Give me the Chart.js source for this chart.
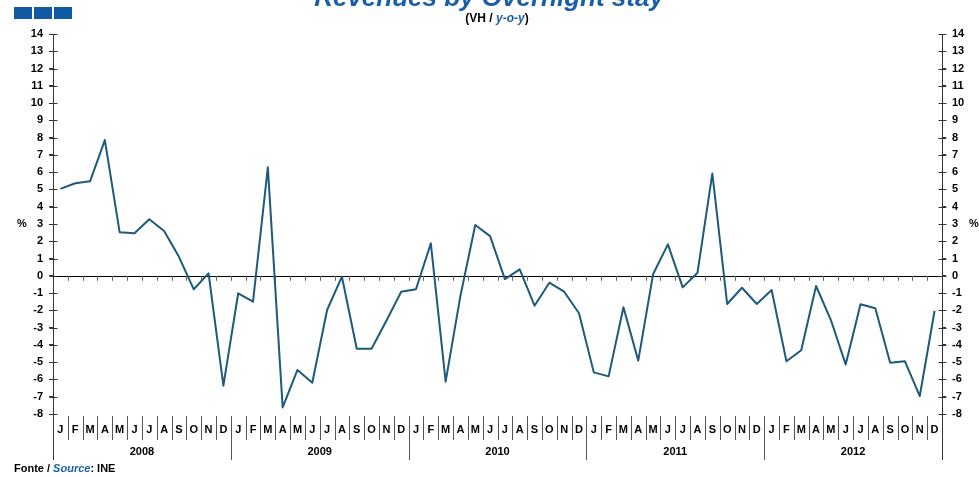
<!DOCTYPE html>
<html>
<head>
<meta charset="utf-8">
<script src="https://cdn.jsdelivr.net/npm/chart.js@4.4.1/dist/chart.umd.min.js"></script>
<style>
  body { margin: 0; background: #fff; }
  #wrap { width: 979px; height: 477px; position: relative; }
</style>
</head>
<body>
<div id="wrap"><canvas id="chart" width="979" height="477"></canvas></div>
<script>
const years = ["2008", "2009", "2010", "2011", "2012"];
const monthLetters = ["J", "F", "M", "A", "M", "J", "J", "A", "S", "O", "N", "D"];
const yTicks = { min: -8, max: 14, step: 1 };

// y-o-y change (%), one row per year
const revenues = [
  5.03, 5.36, 5.47, 7.86, 2.52, 2.46, 3.27, 2.59, 1.1, -0.78, 0.14, -6.36,
  -1.01, -1.5, 6.28, -7.62, -5.45, -6.19, -1.98, -0.05, -4.22, -4.22, -2.6, -0.92,
  -0.78, 1.88, -6.13, -1.15, 2.94, 2.3, -0.19, 0.37, -1.73, -0.4, -0.92, -2.17,
  -5.59, -5.82, -1.82, -4.91, 0.09, 1.82, -0.67, 0.18, 5.93, -1.63, -0.69, -1.63,
  -0.82, -4.95, -4.31, -0.59, -2.56, -5.13, -1.65, -1.88, -5.03, -4.95, -6.96, -2.02
];

const labels = [];
years.forEach(y => monthLetters.forEach(m => labels.push(m + " " + y)));

const FONT = "'Liberation Sans', Arial, sans-serif";
const BLUE = "#1a5ea8";

const decor = {
  id: "decor",
  beforeDatasetsDraw(chart) {
    const { ctx, chartArea: a, scales } = chart;
    const x = scales.x, y = scales.y;
    const half = (x.getPixelForValue(1) - x.getPixelForValue(0)) / 2;
    const y0 = y.getPixelForValue(0);
    ctx.save();
    // zero line + little ticks
    ctx.strokeStyle = "#000";
    ctx.lineWidth = 1;
    ctx.beginPath();
    ctx.moveTo(a.left, Math.round(y0) + 0.5);
    ctx.lineTo(a.right, Math.round(y0) + 0.5);
    ctx.stroke();
    ctx.strokeStyle = "#666";
    ctx.beginPath();
    for (let i = 1; i < labels.length; i++) {
      const bx = Math.round(x.getPixelForValue(i) - half) + 0.5;
      ctx.moveTo(bx, y0);
      ctx.lineTo(bx, y0 + 5);
    }
    ctx.stroke();
    ctx.restore();
  },
  afterDraw(chart) {
    const { ctx, chartArea: a, scales } = chart;
    const x = scales.x;
    const half = (x.getPixelForValue(1) - x.getPixelForValue(0)) / 2;
    ctx.save();

    // inner half of y ticks and axis extension
    ctx.strokeStyle = "#333";
    ctx.lineWidth = 1;
    [scales.y, scales.y2].forEach(s => {
      const ax = Math.round(s.position === "left" ? a.left : a.right) + 0.5;
      ctx.beginPath();
      s.ticks.forEach(t => {
        const py = Math.round(s.getPixelForValue(t.value)) + 0.5;
        ctx.moveTo(ax - 4, py);
        ctx.lineTo(ax + 4, py);
      });
      ctx.moveTo(ax, a.bottom);
      ctx.lineTo(ax, a.bottom + 46);
      ctx.stroke();
    });

    // month separators and year separators
    ctx.strokeStyle = "#555";
    ctx.beginPath();
    for (let i = 1; i < labels.length; i++) {
      const bx = Math.round(x.getPixelForValue(i) - half) + 0.5;
      ctx.moveTo(bx, a.bottom + 2);
      ctx.lineTo(bx, a.bottom + (i % 12 === 0 ? 46 : 26));
    }
    ctx.stroke();

    // month letters
    ctx.fillStyle = "#000";
    ctx.font = "bold 11px " + FONT;
    ctx.textAlign = "center";
    ctx.textBaseline = "middle";
    labels.forEach((l, i) => {
      ctx.fillText(l.split(" ")[0], x.getPixelForValue(i), a.bottom + 16);
    });
    // years
    years.forEach((yr, k) => {
      const cx = (x.getPixelForValue(k * 12) + x.getPixelForValue(k * 12 + 11)) / 2;
      ctx.fillText(yr, cx, a.bottom + 38);
    });

    // % unit labels
    const p3 = scales.y.getPixelForValue(3);
    ctx.fillText("%", 22, p3);
    ctx.fillText("%", 974, p3);

    // header squares
    ctx.fillStyle = "#1259a4";
    [14, 34, 54].forEach(sx => ctx.fillRect(sx, 7, 18, 12));

    // title (cut at the top)
    ctx.fillStyle = BLUE;
    ctx.font = "italic bold 26px " + FONT;
    ctx.textBaseline = "alphabetic";
    ctx.fillText("Revenues by Overnight stay", 489, 6);

    // subtitle
    const parts = [
      ["(VH / ", "bold 12px " + FONT, "#000"],
      ["y-o-y", "italic bold 12px " + FONT, BLUE],
      [")", "bold 12px " + FONT, "#000"]
    ];
    let total = 0;
    parts.forEach(p => { ctx.font = p[1]; total += ctx.measureText(p[0]).width; });
    let px = 497 - total / 2;
    ctx.textAlign = "left";
    parts.forEach(p => {
      ctx.font = p[1]; ctx.fillStyle = p[2];
      ctx.fillText(p[0], px, 22);
      px += ctx.measureText(p[0]).width;
    });

    // source
    const src = [
      ["Fonte / ", "bold 11px " + FONT, "#000"],
      ["Source", "italic bold 11px " + FONT, BLUE],
      [": INE", "bold 11px " + FONT, "#000"]
    ];
    px = 14;
    src.forEach(p => {
      ctx.font = p[1]; ctx.fillStyle = p[2];
      ctx.fillText(p[0], px, 472);
      px += ctx.measureText(p[0]).width;
    });
    ctx.restore();
  }
};

const tickFont = { family: FONT, size: 11, weight: "bold" };

new Chart(document.getElementById("chart"), {
  type: "line",
  data: {
    labels: labels,
    datasets: [{
      label: "Revenues by Overnight stay",
      data: revenues,
      borderColor: "#1d5a7b",
      borderWidth: 2,
      borderJoinStyle: "round",
      pointRadius: 0,
      tension: 0,
      yAxisID: "y"
    }]
  },
  options: {
    responsive: false,
    animation: false,
    devicePixelRatio: 1,
    layout: { padding: { top: 34, left: 0, right: 0, bottom: 0 } },
    plugins: { legend: { display: false }, tooltip: { enabled: false } },
    scales: {
      x: {
        type: "category",
        offset: true,
        ticks: { display: false },
        grid: { display: false },
        border: { display: false },
        afterFit: s => { s.height = 63; }
      },
      y: {
        position: "left",
        min: yTicks.min, max: yTicks.max,
        ticks: { stepSize: yTicks.step, autoSkip: false, color: "#000", font: tickFont, padding: 6 },
        grid: { drawOnChartArea: false, tickLength: 4, color: "#333" },
        border: { color: "#333" },
        afterFit: s => { s.width = 53; }
      },
      y2: {
        position: "right",
        min: yTicks.min, max: yTicks.max,
        ticks: { stepSize: yTicks.step, autoSkip: false, color: "#000", font: tickFont, padding: 6 },
        grid: { drawOnChartArea: false, tickLength: 4, color: "#333" },
        border: { color: "#333" },
        afterFit: s => { s.width = 37; }
      }
    }
  },
  plugins: [decor]
});
</script>
</body>
</html>
